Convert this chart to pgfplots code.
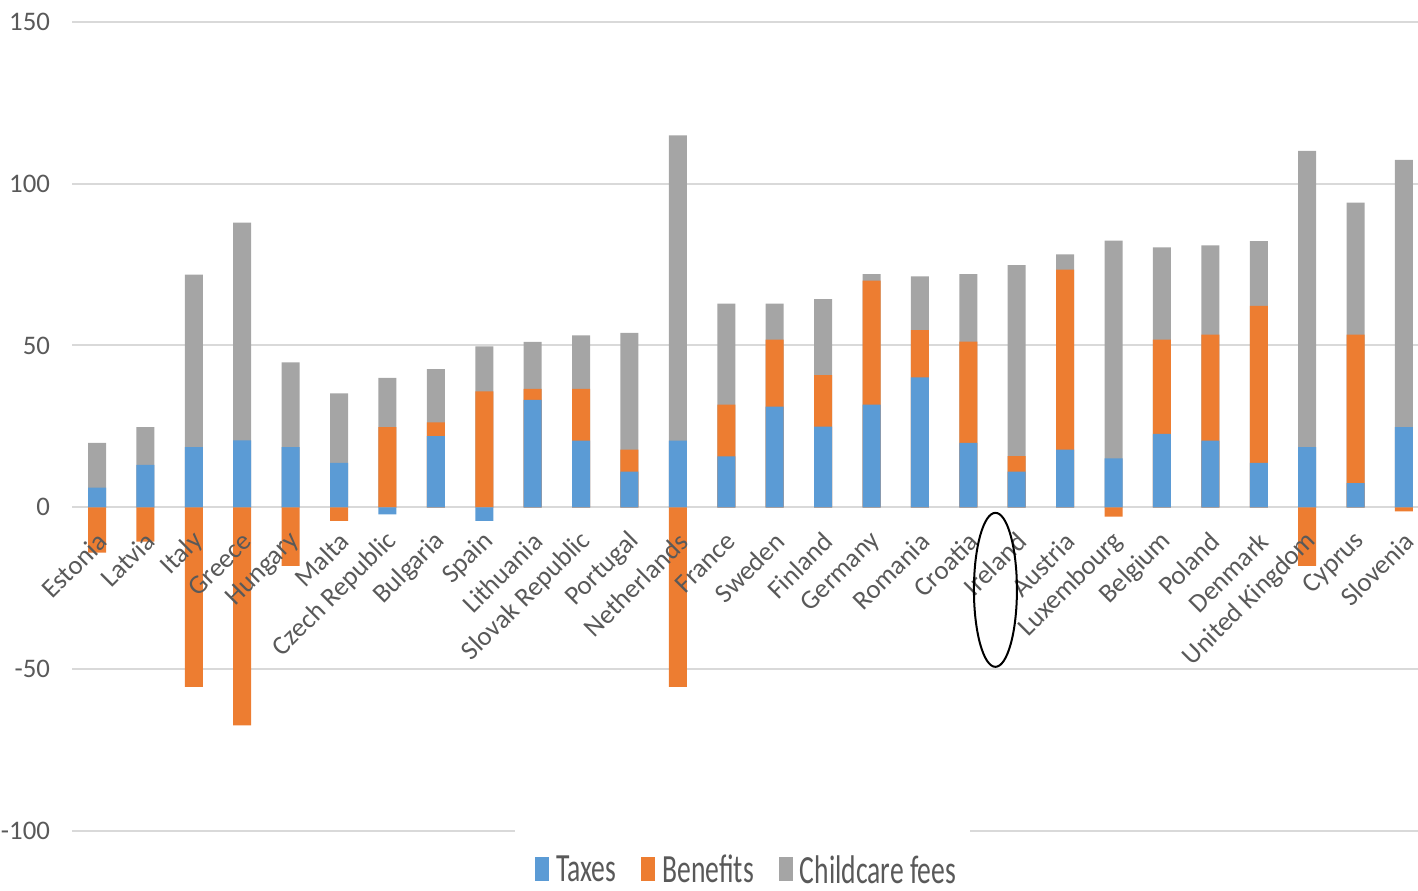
\documentclass[border=0pt]{standalone}
\usepackage{pgfplots}
\pgfplotsset{compat=1.18}
\usepackage{pgfplotstable}
\usepackage{fontspec}
\setmainfont{Carlito}
\newfontfamily\legfont[FakeStretch=0.69]{Carlito}
\definecolor{taxblue}{HTML}{5B9BD5}
\definecolor{benorange}{HTML}{ED7D31}
\definecolor{caregray}{HTML}{A5A5A5}
\definecolor{gridgray}{HTML}{D9D9D9}
\definecolor{labelgray}{HTML}{595959}

\pgfplotstableread{
i tax ben care
0 6.1 -14.0 13.8
1 13.1 -10.6 11.7
2 18.6 -55.5 53.3
3 20.7 -67.4 67.2
4 18.6 -18.1 26.2
5 13.7 -4.2 21.5
6 -2.2 24.8 15.2
7 22.0 4.2 16.5
8 -4.2 35.8 13.9
9 33.2 3.4 14.5
10 20.6 16.0 16.5
11 11.0 6.8 36.1
12 20.6 -55.5 94.3
13 15.7 16.0 31.2
14 31.1 20.7 11.1
15 24.9 15.9 23.5
16 31.7 38.3 2.0
17 40.1 14.6 16.6
18 19.9 31.3 20.8
19 11.0 4.8 59.0
20 17.8 55.6 4.7
21 15.1 -2.9 67.3
22 22.7 29.1 28.5
23 20.6 32.7 27.6
24 13.7 48.5 20.0
25 18.6 -18.1 91.5
26 7.5 45.8 40.8
27 24.8 -1.3 82.5
}\data

\pgfplotsset{
  mylegend/.style={legend image code/.code={\fill[##1] (0pt,-5pt) rectangle (7pt,7pt);}},
  layers/mylayers/.define layer set={axis background,axis grid,axis ticks,axis lines,main,axis tick labels,axis descriptions,axis foreground}{
    grid style={/pgfplots/on layer=axis grid},
    tick style={/pgfplots/on layer=axis ticks},
    axis line style={/pgfplots/on layer=axis lines},
    label style={/pgfplots/on layer=axis descriptions},
    legend style={/pgfplots/on layer=axis descriptions},
    title style={/pgfplots/on layer=axis descriptions},
    ticklabel style={/pgfplots/on layer=axis tick labels},
    axis background@ style={/pgfplots/on layer=axis background},
  },
}

\begin{document}
\begin{tikzpicture}
\begin{axis}[
  set layers=mylayers,
  scale only axis, width=673pt, height=404.65pt,
  xmin=-0.517, xmax=27.29, ymin=-100, ymax=150,
  ytick={-100,-50,0,50,100,150},
  ymajorgrids, grid style={gridgray, line width=1pt},
  axis line style={draw=none}, major tick length=0pt,
  xtick={0,...,27},
  xticklabels={Estonia,Latvia,Italy,Greece,Hungary,Malta,Czech Republic,Bulgaria,Spain,Lithuania,Slovak Republic,Portugal,Netherlands,France,Sweden,Finland,Germany,Romania,Croatia,Ireland,Austria,Luxembourg,Belgium,Poland,Denmark,United Kingdom,Cyprus,Slovenia},
  ybar, bar width=9pt, bar shift=0pt,
  clip=false,
  /pgf/number format/assume math mode=true,
  yticklabel style={font=\fontsize{13.4}{16}\selectfont, text=labelgray, xshift=-7.5pt},
  xticklabel style={font=\fontsize{13.4}{16}\selectfont, text=labelgray, xshift=5pt, yshift=149.4pt, rotate=45, anchor=east},
  legend columns=-1,
  legend style={at={(axis description cs:0.344,-0.049)}, anchor=west, draw=none, fill=none,
    font=\legfont\fontsize{20}{24}\selectfont, text=labelgray, inner sep=0pt,
    nodes={inner sep=0pt},
    /tikz/every odd column/.append style={column sep=3.5pt},
    /tikz/every even column/.append style={column sep=12.5pt}},
]
\addplot[fill=caregray, draw=none, forget plot] table[x=i, y expr={max(\thisrow{tax},0)+max(\thisrow{ben},0)+\thisrow{care}}]{\data};
\addplot[fill=benorange, draw=none, forget plot] table[x=i, y expr={ifthenelse(\thisrow{ben}>0, max(\thisrow{tax},0)+\thisrow{ben}, 0)}]{\data};
\addplot[fill=taxblue, draw=none, forget plot] table[x=i, y expr={max(\thisrow{tax},0)}]{\data};
\addplot[fill=benorange, draw=none, forget plot] table[x=i, y expr={min(\thisrow{ben},0)}]{\data};
\addplot[fill=taxblue, draw=none, forget plot] table[x=i, y expr={min(\thisrow{tax},0)}]{\data};
\addlegendimage{mylegend, fill=taxblue, draw=none}
\addlegendentry{Taxes}
\addlegendimage{mylegend, fill=benorange, draw=none}
\addlegendentry{Benefits}
\addlegendimage{mylegend, fill=caregray, draw=none}
\addlegendentry{Childcare fees}
\fill[white] (axis cs:8.64,-102) rectangle (axis cs:18.04,-98);
\begin{pgfonlayer}{axis foreground}
\draw[black, line width=1pt] (axis cs:18.56,-25.5) ellipse [x radius=10.75pt, y radius=38.5pt];
\end{pgfonlayer}
\end{axis}
\pgfresetboundingbox
\path (current axis.south west) ++(-36pt,-29.5pt) rectangle ++(709pt,445pt);
\end{tikzpicture}
\end{document}
